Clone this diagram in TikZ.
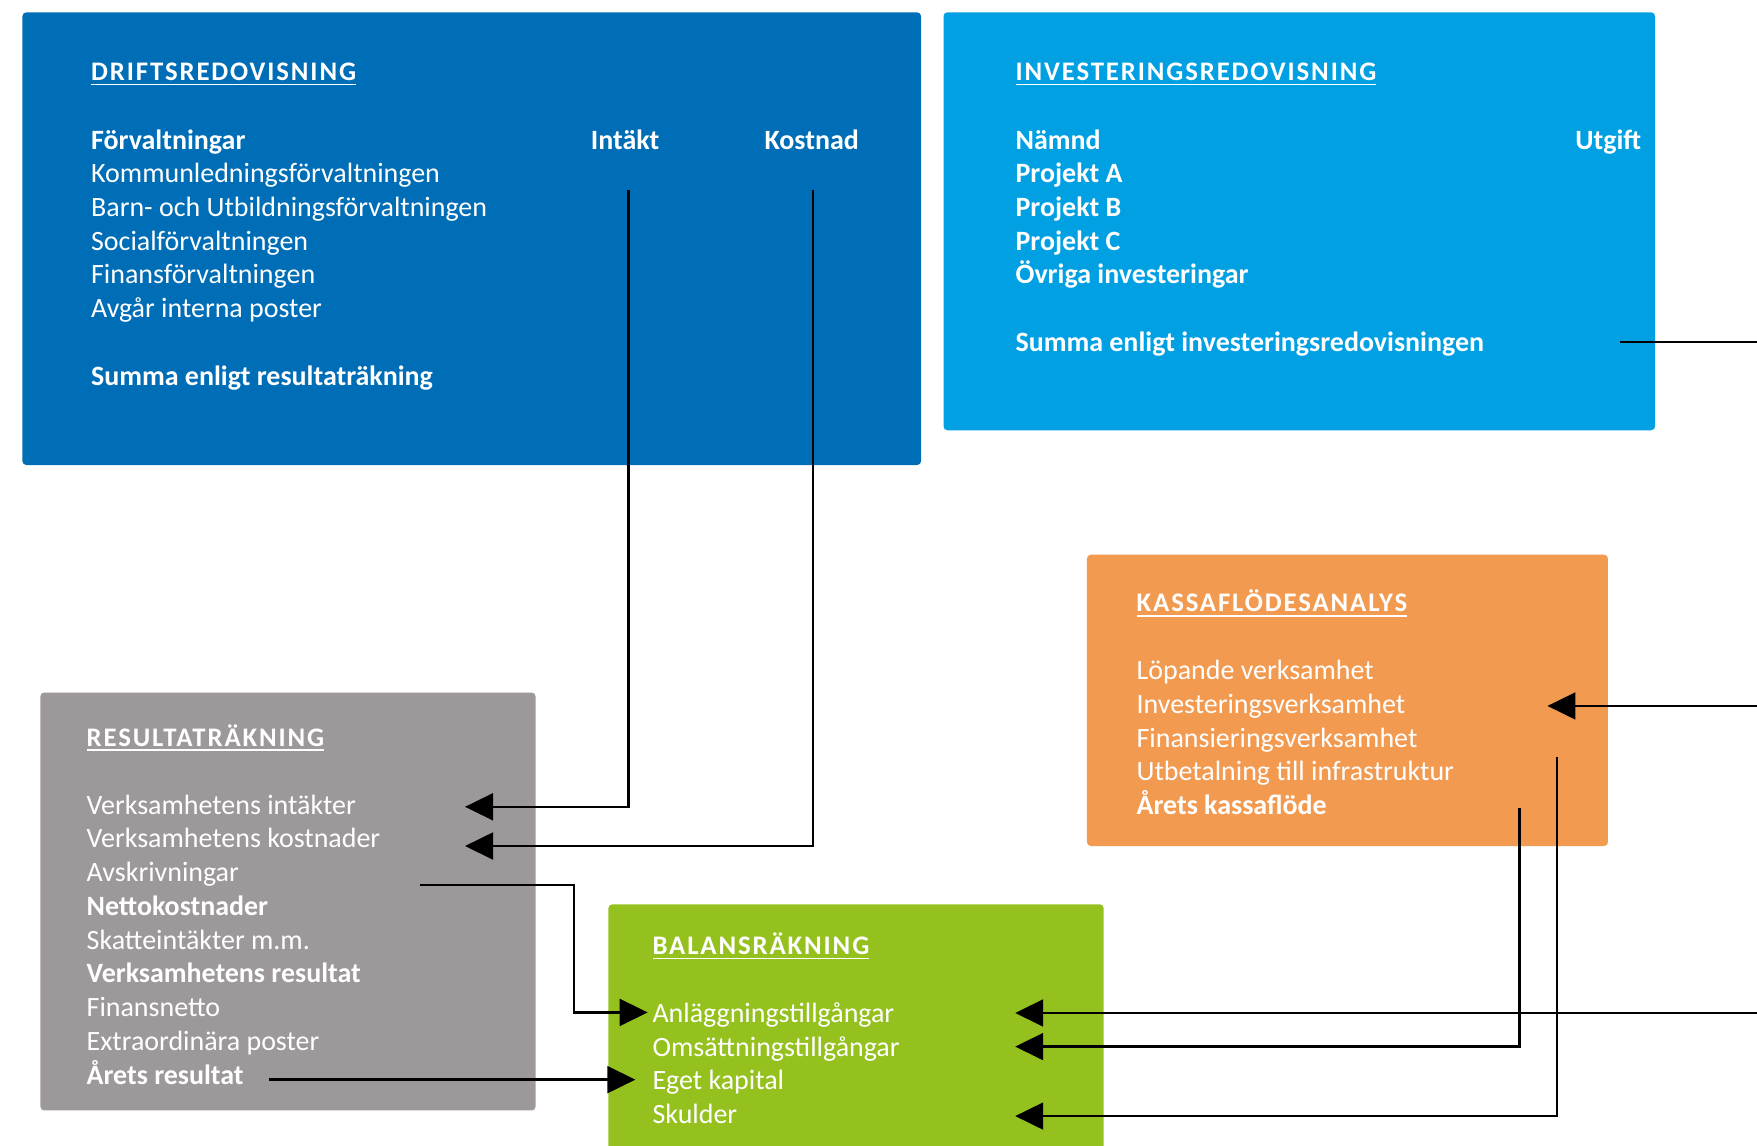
\documentclass[tikz,border=0pt]{standalone}
\usepackage{fontspec}
\setmainfont{Carlito}
\newfontfamily\headfont[LetterSpace=7]{Carlito}
\usetikzlibrary{arrows.meta}

\definecolor{driftblue}{RGB}{0,110,183}
\definecolor{invblue}{RGB}{0,160,227}
\definecolor{kassaorange}{RGB}{243,154,81}
\definecolor{resgrey}{RGB}{157,153,154}
\definecolor{balgreen}{RGB}{149,193,31}

\newcommand{\rubrik}[1]{\setbox0\hbox{#1}\rlap{\rule[-2.4pt]{\wd0}{0.85pt}}\box0}

\tikzset{
	panel/.style={rounded corners=2pt, fill=#1},
	rad/.style={anchor=base west, inner sep=0pt, text=white, font=\fontsize{14.2pt}{17pt}\selectfont},
	radb/.style={rad, font=\fontsize{14.2pt}{17pt}\selectfont\bfseries},
	rubr/.style={rad, font=\headfont\bfseries\fontsize{13.6pt}{16pt}\selectfont},
	linje/.style={line width=1.2pt},
	pil/.style={linje, -{Triangle[length=0.5cm,width=0.48cm]}}
}

\begin{document}
\begin{tikzpicture}[x=0.02cm, y=-0.02cm]
	\useasboundingbox (0,0) rectangle (1568,1022);
	\clip (0,0) rectangle (1568,1022);

	% rutor
	\fill[panel=driftblue] (20,11) rectangle (822,415);
	\fill[panel=invblue] (842,11) rectangle (1477,384);
	\fill[panel=kassaorange] (970,495) rectangle (1435,755);
	\fill[panel=resgrey] (36,618) rectangle (478,991);
	\fill[panel=balgreen] (543,807) rectangle (985,1040);

	% driftsredovisning
	\node[rubr] (drift) at (81,72) {\rubrik{DRIFTSREDOVISNING}};
	\node[radb] (forv) at (81,133) {Förvaltningar};
	\node[radb] (intakt) at (527,133) {Intäkt};
	\node[radb] (kostnad) at (682,133) {Kostnad};
	\node[rad] (kommun) at (81,163.1) {Kommunledningsförvaltningen};
	\node[rad] (barn) at (81,193.2) {Barn- och Utbildningsförvaltningen};
	\node[rad] (social) at (81,223.3) {Socialförvaltningen};
	\node[rad] (finans) at (81,253.4) {Finansförvaltningen};
	\node[rad] (avgar) at (81,283.5) {Avgår interna poster};
	\node[radb] (summadrift) at (81,343.7) {Summa enligt resultaträkning};

	% investeringsredovisning
	\node[rubr] (inv) at (906,72) {\rubrik{INVESTERINGSREDOVISNING}};
	\node[radb] (namnd) at (906,133) {Nämnd};
	\node[radb, anchor=base east] (utgift) at (1465,133) {Utgift};
	\node[radb] (proja) at (906,163.1) {Projekt A};
	\node[radb] (projb) at (906,193.2) {Projekt B};
	\node[radb] (projc) at (906,223.3) {Projekt C};
	\node[radb] (ovriga) at (906,253.4) {Övriga investeringar};
	\node[radb] (summainv) at (906,313.6) {Summa enligt investeringsredovisningen};

	% kassaflödesanalys
	\node[rubr] (kassa) at (1014,546) {\rubrik{KASSAFLÖDESANALYS}};
	\node[rad] (lopande) at (1014,606.5) {Löpande verksamhet};
	\node[rad] (invverk) at (1014,636.6) {Investeringsverksamhet};
	\node[rad] (finverk) at (1014,666.7) {Finansieringsverksamhet};
	\node[rad] (utbet) at (1014,696.8) {Utbetalning till infrastruktur};
	\node[radb] (kassaflode) at (1014,726.9) {Årets kassaflöde};

	% resultaträkning
	\node[rubr] (res) at (77,666) {\rubrik{RESULTATRÄKNING}};
	\node[rad] (vintakt) at (77,726.6) {Verksamhetens intäkter};
	\node[rad] (vkostn) at (77,756.7) {Verksamhetens kostnader};
	\node[rad] (avskr) at (77,786.8) {Avskrivningar};
	\node[radb] (netto) at (77,816.9) {Nettokostnader};
	\node[rad] (skatt) at (77,847) {Skatteintäkter m.m.};
	\node[radb] (vres) at (77,877.1) {Verksamhetens resultat};
	\node[rad] (finnetto) at (77,907.2) {Finansnetto};
	\node[rad] (extra) at (77,937.3) {Extraordinära poster};
	\node[radb] (aretsres) at (77,967.4) {Årets resultat};

	% balansräkning
	\node[rubr] (bal) at (582,852) {\rubrik{BALANSRÄKNING}};
	\node[rad] (anl) at (582,912.5) {Anläggningstillgångar};
	\node[rad] (oms) at (582,942.6) {Omsättningstillgångar};
	\node[rad] (eget) at (582,972.7) {Eget kapital};
	\node[rad] (skulder) at (582,1002.8) {Skulder};

	% ändpunkter
	\coordinate (intakt-ned) at (561,170);
	\coordinate (kostnad-ned) at (725.5,170);
	\coordinate (vintakt-pil) at (415,720);
	\coordinate (vkostn-pil) at (415,755);
	\coordinate (avskr-ut) at (375,790);
	\coordinate (anl-in) at (578,903.5);
	\coordinate (res-ut) at (240,963.5);
	\coordinate (eget-in) at (567,963.5);
	\coordinate (inv-ut) at (1446,305);
	\coordinate (kant-inv) at (1568,305);
	\coordinate (kant-kassa) at (1568,630);
	\coordinate (invverk-pil) at (1381,630);
	\coordinate (kant-anl) at (1568,904);
	\coordinate (anl-pil) at (906,904);
	\coordinate (kassa-ut) at (1356,721);
	\coordinate (oms-pil) at (906,934);
	\coordinate (utbet-ut) at (1389.5,676);
	\coordinate (skulder-pil) at (906,996);

	% pilar
	\draw[pil] (intakt-ned) |- (vintakt-pil);
	\draw[pil] (kostnad-ned) |- (vkostn-pil);
	\draw[pil] (avskr-ut) -| (512,903.5) -- (anl-in);
	\draw[pil] (res-ut) -- (eget-in);
	\draw[linje] (inv-ut) -- (kant-inv);
	\draw[pil] (kant-kassa) -- (invverk-pil);
	\draw[pil] (kant-anl) -- (anl-pil);
	\draw[pil] (kassa-ut) |- (oms-pil);
	\draw[pil] (utbet-ut) |- (skulder-pil);
\end{tikzpicture}
\end{document}
